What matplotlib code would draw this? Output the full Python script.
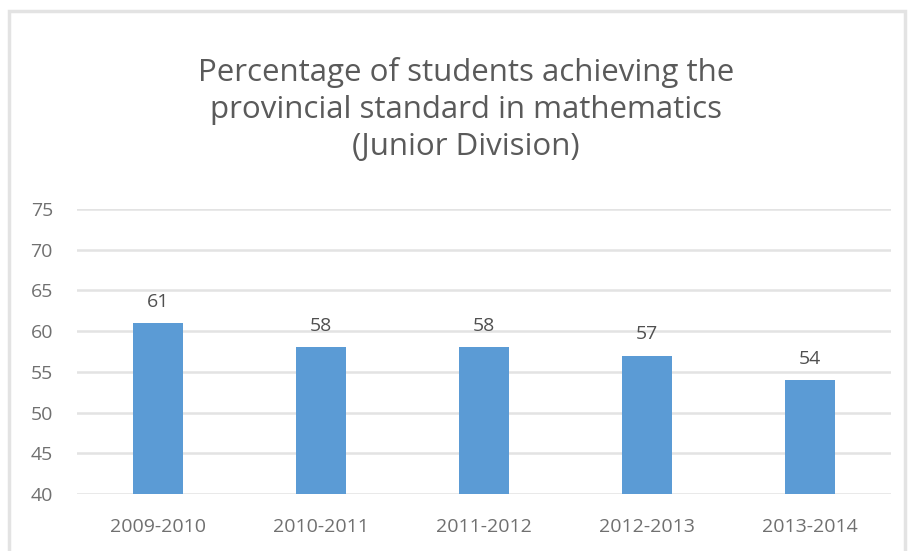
import matplotlib
matplotlib.use("Agg")
import matplotlib.pyplot as plt
from matplotlib.patches import Rectangle

categories = ["2009-2010", "2010-2011", "2011-2012", "2012-2013", "2013-2014"]
values = [61, 58, 58, 57, 54]
yticks = [40, 45, 50, 55, 60, 65, 70, 75]
title = "Percentage of students achieving the\nprovincial standard in mathematics\n(Junior Division)"

plt.rcParams['font.family'] = ['Open Sans', 'DejaVu Sans']
W, H = 911, 551
fig = plt.figure(figsize=(W/100, H/100), dpi=100)
fig.patch.set_facecolor('white')

# outer chart border
fig.patches.append(Rectangle((9/W, -0.05), (905-9)/W, 1.05 - 11/H, transform=fig.transFigure,
                             fill=False, edgecolor='#e3e3e3', linewidth=2.5))

ax = fig.add_axes([76.5/W, 1-494/H, (891-76.5)/W, (494-209)/H])
x = list(range(len(categories)))
bars = ax.bar(x, values, width=0.307, color='#5b9bd5', zorder=3)
ax.set_xlim(-0.5, len(categories)-0.5)
ax.set_ylim(40, 75)
ax.set_yticks(yticks)
ax.set_xticks(x)
ax.set_xticklabels(categories)
ax.grid(axis='y', color='#e3e3e3', linewidth=1.8, zorder=0)
for s in ax.spines.values():
    s.set_visible(False)
ax.tick_params(length=0, colors='#707070', labelsize=14)
ax.tick_params(axis='y', pad=17)
ax.tick_params(axis='x', pad=17)
for b, v in zip(bars, values):
    ax.annotate(str(v), (b.get_x()+b.get_width()/2, v), xytext=(0, 9), textcoords='offset points',
                ha='center', va='bottom', fontsize=14, color='#505050')

fig.text(466/W, 1-57/H, title, ha='center', va='top', fontsize=22.5, color='#5a5a5a', linespacing=1.3)

fig.savefig('out.png', dpi=100)
